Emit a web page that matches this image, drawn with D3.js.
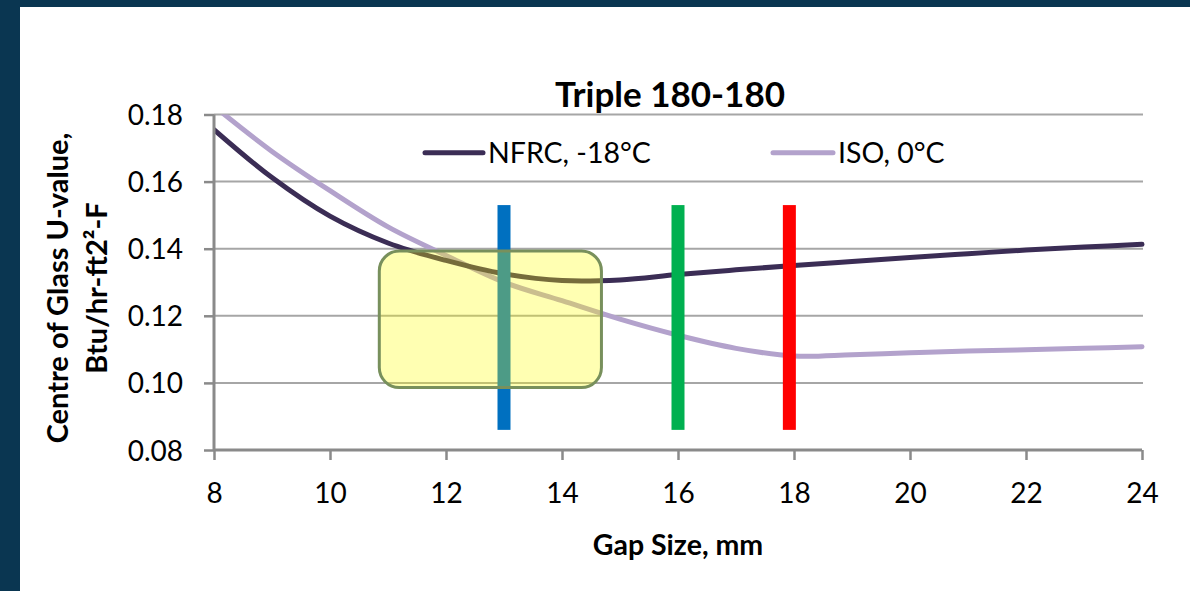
<!DOCTYPE html>
<html>
<head>
<meta charset="utf-8">
<script src="https://cdn.jsdelivr.net/npm/d3@7/dist/d3.min.js"></script>
<style>
  html, body { margin: 0; padding: 0; background: #0a3651; }
  svg { display: block; }
  text { font-family: Lato, "Open Sans", sans-serif; fill: #000; }
</style>
</head>
<body>
<svg id="chart" width="1190" height="591"></svg>
<script>
// ---- data ----
const gapSizes = [8, 9, 10, 11, 12, 13, 14, 15, 16, 17, 18, 19, 20, 21, 22, 23, 24];
const nfrcValues = [0.1755, 0.1612, 0.1497, 0.1417, 0.1365, 0.1325, 0.1305, 0.1307, 0.1323, 0.1337, 0.1350, 0.1362, 0.1374, 0.1385, 0.1396, 0.1405, 0.1413];
const isoValues  = [0.1825, 0.1690, 0.1573, 0.1465, 0.1380, 0.1300, 0.1245, 0.1190, 0.1142, 0.1103, 0.1080, 0.1084, 0.1090, 0.1095, 0.1099, 0.1103, 0.1108];
const seriesNames = ["NFRC, -18°C", "ISO, 0°C"];
const xTicks = [8, 10, 12, 14, 16, 18, 20, 22, 24];
const yTicks = [0.08, 0.10, 0.12, 0.14, 0.16, 0.18];
const markerGaps = [13, 16, 17.92];
const markerRange = [0.086, 0.153];
const highlightGap = [10.85, 14.68];
const highlightU = [0.0986, 0.1393];
const chartTitle = "Triple 180-180";
const xTitle = "Gap Size, mm";
const yTitleLines = ["Centre of Glass U-value,", "Btu/hr-ft2²-F"];

// ---- layout ----
const svg = d3.select("#chart");
const W = 1190, H = 591;
const plot = { left: 214, right: 1142, top: 114.5, bottom: 450 };

svg.append("rect").attr("x", 20).attr("y", 7).attr("width", W - 20).attr("height", H - 7).attr("fill", "#ffffff");

const x = d3.scaleLinear().domain([8, 24]).range([plot.left, plot.right]);
const y = d3.scaleLinear().domain([0.08, 0.18]).range([plot.bottom, plot.top]);

svg.append("defs").append("clipPath").attr("id", "clip")
  .append("rect").attr("x", plot.left).attr("y", plot.top).attr("width", plot.right - plot.left + 6).attr("height", plot.bottom - plot.top);

// gridlines
svg.append("g").selectAll("line").data(yTicks.filter(d => d > 0.08)).join("line")
  .attr("x1", plot.left).attr("x2", plot.right + 1)
  .attr("y1", d => y(d)).attr("y2", d => y(d))
  .attr("stroke", "#a6a6a6").attr("stroke-width", 2);

// series
const lineGen = vals => d3.line().x((d, i) => x(gapSizes[i])).y(d => y(d)).curve(d3.curveCatmullRom.alpha(0.5))(vals);
const lines = svg.append("g").attr("clip-path", "url(#clip)");
lines.append("path").attr("d", lineGen(isoValues)).attr("fill", "none").attr("stroke", "#b3a2cc").attr("stroke-width", 5).attr("stroke-linecap", "round");
lines.append("path").attr("d", lineGen(nfrcValues)).attr("fill", "none").attr("stroke", "#3b2d55").attr("stroke-width", 5).attr("stroke-linecap", "round");

// marker bars
const barColors = ["#0070c0", "#00b050", "#ff0000"];
svg.append("g").selectAll("rect").data(markerGaps).join("rect")
  .attr("x", d => x(d) - 6.5).attr("width", 13)
  .attr("y", y(markerRange[1])).attr("height", y(markerRange[0]) - y(markerRange[1]))
  .attr("fill", (d, i) => barColors[i]);

// highlight box
svg.append("rect")
  .attr("x", x(highlightGap[0])).attr("width", x(highlightGap[1]) - x(highlightGap[0]))
  .attr("y", y(highlightU[1])).attr("height", y(highlightU[0]) - y(highlightU[1]))
  .attr("rx", 20).attr("ry", 20)
  .attr("fill", "#ffff00").attr("fill-opacity", 0.3)
  .attr("stroke", "#78905c").attr("stroke-width", 3);

// axes
const yAxis = svg.append("g").attr("transform", `translate(${plot.left},0)`)
  .call(d3.axisLeft(y).tickValues(yTicks).tickFormat(d3.format(".2f")).tickSize(10).tickPadding(21));
const xAxis = svg.append("g").attr("transform", `translate(0,${plot.bottom})`)
  .call(d3.axisBottom(x).tickValues(xTicks).tickFormat(d3.format("d")).tickSize(10).tickPadding(20));
[yAxis, xAxis].forEach(a => {
  a.select(".domain").attr("stroke", "#8a8a8a").attr("stroke-width", 3);
  a.selectAll(".tick line").attr("stroke", "#8a8a8a").attr("stroke-width", 2.5);
  a.selectAll(".tick text").attr("font-family", "Lato").attr("font-size", 28).attr("fill", "#000");
});
yAxis.select(".domain").attr("d", `M0,${plot.top}V${plot.bottom}`);
xAxis.select(".domain").attr("d", `M${plot.left},0H${plot.right}`);
yAxis.selectAll(".tick text").attr("dy", "0.36em");
xAxis.selectAll(".tick text").attr("dy", "0.82em");

// title
svg.append("text").attr("x", 670).attr("y", 106.5).attr("text-anchor", "middle")
  .attr("font-size", 35).attr("font-weight", "bold").text(chartTitle);

// legend
const legend = [
  { name: seriesNames[0], color: "#3b2d55", x0: 425, x1: 483 },
  { name: seriesNames[1], color: "#b3a2cc", x0: 773, x1: 833 }
];
const lg = svg.append("g");
legend.forEach(l => {
  lg.append("line").attr("x1", l.x0).attr("x2", l.x1).attr("y1", 152.7).attr("y2", 152.7)
    .attr("stroke", l.color).attr("stroke-width", 5).attr("stroke-linecap", "round");
  lg.append("text").attr("x", l.x1 + 5).attr("y", 162.7).attr("font-size", 28.5).text(l.name);
});

// axis titles
svg.append("text").attr("x", 678).attr("y", 554.5).attr("text-anchor", "middle")
  .attr("font-size", 28.5).attr("font-weight", "bold").text(xTitle);
const yt = svg.append("text").attr("transform", "translate(0,288) rotate(-90)").attr("text-anchor", "middle")
  .attr("font-size", 29).attr("font-weight", "bold");
yt.append("tspan").attr("x", 0).attr("y", 68).text(yTitleLines[0]);
yt.append("tspan").attr("x", 0).attr("y", 107).text(yTitleLines[1]);
</script>
</body>
</html>
